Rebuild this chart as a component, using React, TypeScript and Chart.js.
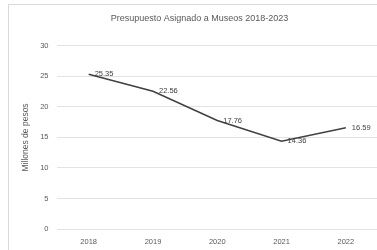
import React, { useEffect, useRef } from "react";
import { Chart, registerables } from "chart.js";

Chart.register(...registerables);

const categories = ["2018", "2019", "2020", "2021", "2022"];
const values = [25.35, 22.56, 17.76, 14.36, 16.59];
const valueLabels = ["25.35", "22.56", "17.76", "14.36", "16.59"];
const chartTitle = "Presupuesto Asignado a Museos 2018-2023";
const yTitle = "Millones de pesos";

const FONT = "'Liberation Sans', Arial, sans-serif";

const labelPlugin = {
  id: "pointLabels",
  afterDatasetsDraw(chart: any) {
    const ctx = chart.ctx;
    const meta = chart.getDatasetMeta(0);
    ctx.save();
    ctx.font = "7.5px " + FONT;
    ctx.fillStyle = "#404040";
    ctx.textAlign = "left";
    ctx.textBaseline = "middle";
    meta.data.forEach((pt: any, i: number) => {
      ctx.fillText(valueLabels[i], pt.x + 6, pt.y);
    });
    ctx.restore();
  },
};

export default function App() {
  const ref = useRef<HTMLCanvasElement>(null);
  useEffect(() => {
    const chart = new Chart(ref.current as HTMLCanvasElement, {
      type: "line",
      data: {
        labels: categories,
        datasets: [
          {
            data: values,
            borderColor: "#404040",
            borderWidth: 1.5,
            pointRadius: 0,
            tension: 0,
            fill: false,
          },
        ],
      },
      options: {
        animation: false,
        responsive: false,
        layout: { padding: { left: 12, right: 0, top: 4, bottom: 5 } },
        plugins: {
          legend: { display: false },
          tooltip: { enabled: false },
          title: {
            display: true,
            text: chartTitle,
            color: "#595959",
            font: { family: FONT, size: 9, weight: "normal" },
            padding: { top: 4, bottom: 22 },
          },
        },
        scales: {
          x: {
            offset: true,
            grid: { display: false },
            border: { display: false },
            ticks: {
              color: "#595959",
              font: { family: FONT, size: 7.5 },
              padding: 0,
            },
          },
          y: {
            min: 0,
            max: 30,
            grid: { color: "#e3e3e3", drawTicks: false },
            border: { display: false },
            ticks: {
              stepSize: 5,
              color: "#595959",
              font: { family: FONT, size: 7.5 },
              padding: 8,
            },
            title: {
              display: true,
              text: yTitle,
              color: "#595959",
              font: { family: FONT, size: 8.5 },
              padding: { top: 0, bottom: 1 },
            },
          },
        },
      },
      plugins: [labelPlugin],
    });
    return () => chart.destroy();
  }, []);
  return (
    <div
      style={{
        position: "absolute",
        left: 8,
        top: 4,
        width: 380,
        height: 250,
        borderLeft: "1px solid #d9d9d9",
        borderTop: "1px solid #d9d9d9",
        background: "#fff",
      }}
    >
      <canvas ref={ref} width={369} height={246} style={{ display: "block" }} />
    </div>
  );
}
